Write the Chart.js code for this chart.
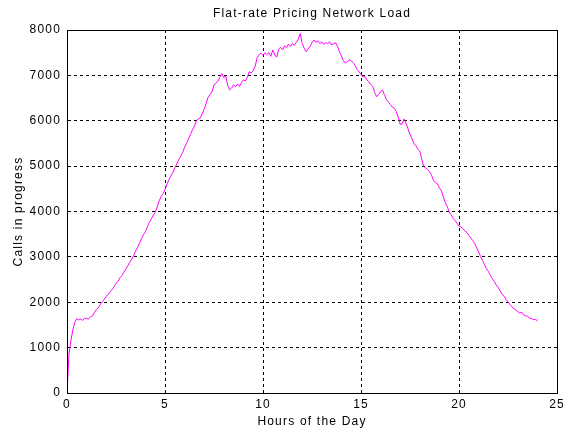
<!DOCTYPE html>
<html>
<head>
<meta charset="utf-8">
<title>Flat-rate Pricing Network Load</title>
<script src="https://cdn.jsdelivr.net/npm/chart.js@4/dist/chart.umd.min.js"></script>
<style>
  html, body { margin: 0; padding: 0; background: #ffffff; }
  #wrap { width: 563px; height: 432px; }
</style>
</head>
<body>
<div id="wrap"><canvas id="load" width="563" height="432"></canvas></div>
<script>
// Calls in progress, sampled every 0.1 h from 00:00 to 24:00
const sampleStepHours = 0.1;
const callsInProgress = [
  0, 850, 1150, 1400, 1560, 1640, 1610, 1630, 1600, 1640,
  1650, 1630, 1680, 1700, 1780, 1840, 1880, 1950, 2010, 2060,
  2130, 2170, 2230, 2280, 2340, 2420, 2460, 2540, 2590, 2660,
  2730, 2800, 2880, 2950, 3030, 3130, 3210, 3300, 3400, 3490,
  3560, 3660, 3760, 3830, 3920, 3980, 4100, 4230, 4330, 4390,
  4480, 4600, 4700, 4780, 4860, 4960, 5050, 5140, 5220, 5300,
  5420, 5500, 5600, 5700, 5800, 5880, 6000, 6040, 6060, 6150,
  6260, 6380, 6520, 6580, 6640, 6790, 6830, 6870, 6960, 7040,
  6950, 6990, 6780, 6680, 6720, 6790, 6750, 6810, 6760, 6840,
  6900, 6880, 6960, 7080, 7050, 7110, 7200, 7390, 7450, 7490,
  7440, 7500, 7460, 7500, 7420, 7560, 7450, 7400, 7580, 7620,
  7560, 7650, 7610, 7690, 7640, 7700, 7660, 7730, 7800, 7920,
  7700, 7600, 7520, 7580, 7640, 7720, 7780, 7730, 7760, 7700,
  7740, 7680, 7720, 7700, 7740, 7670, 7690, 7720, 7640, 7520,
  7430, 7330, 7270, 7300, 7340, 7320, 7280, 7220, 7130, 7080,
  7020, 6960, 6980, 6900, 6860, 6800, 6760, 6620, 6530, 6580,
  6640, 6680, 6560, 6470, 6410, 6360, 6300, 6280, 6200, 6080,
  5920, 5930, 6040, 5940, 5820, 5700, 5600, 5500, 5450, 5370,
  5330, 5150, 4990, 4960, 4920, 4880, 4800, 4680, 4640, 4610,
  4520, 4460, 4320, 4200, 4110, 3990, 3930, 3850, 3800, 3740,
  3680, 3660, 3620, 3570, 3540, 3470, 3420, 3360, 3300, 3200,
  3110, 3010, 2920, 2830, 2740, 2680, 2590, 2520, 2460, 2380,
  2330, 2250, 2180, 2130, 2060, 2010, 1950, 1900, 1860, 1830,
  1790, 1760, 1780, 1720, 1700, 1690, 1650, 1640, 1620, 1620,
  1590
];
const hourTicks = [0, 5, 10, 15, 20, 25];
const callTicks = [0, 1000, 2000, 3000, 4000, 5000, 6000, 7000, 8000];

const chartTitle = 'Flat-rate Pricing Network Load';
const xAxisTitle = 'Hours of the Day';
const yAxisTitle = 'Calls in progress';

const points = callsInProgress.map((v, i) => ({ x: +(i * sampleStepHours).toFixed(1), y: v }));

const baseFont = { family: 'Arial, "Liberation Sans", sans-serif', size: 12 };
const plainNumber = v => String(v);

// Letter spacing for all canvas text, plus the solid frame and the title above the axes
const framePlugin = {
  id: 'frame',
  beforeDraw(chart) {
    chart.ctx.letterSpacing = '1.2px';
  },
  afterDraw(chart) {
    const { ctx, chartArea: a } = chart;
    ctx.save();
    ctx.strokeStyle = '#000';
    ctx.lineWidth = 1;
    ctx.setLineDash([]);
    ctx.strokeRect(Math.round(a.left) + 0.5, Math.round(a.top) + 0.5,
                   Math.round(a.right - a.left), Math.round(a.bottom - a.top));
    ctx.fillStyle = '#000';
    ctx.font = '12px Arial, "Liberation Sans", sans-serif';
    ctx.letterSpacing = '1.2px';
    ctx.textAlign = 'center';
    ctx.textBaseline = 'middle';
    ctx.fillText(chartTitle, (a.left + a.right) / 2, 14);
    ctx.restore();
  }
};

new Chart(document.getElementById('load'), {
  type: 'line',
  data: {
    datasets: [{
      data: points,
      borderColor: '#ff00ff',
      borderWidth: 1,
      pointRadius: 0,
      tension: 0,
      fill: false
    }]
  },
  options: {
    responsive: false,
    animation: false,
    devicePixelRatio: 1,
    layout: { padding: { left: 0, right: 0, top: 30, bottom: 0 } },
    plugins: { legend: { display: false }, tooltip: { enabled: false }, title: { display: false } },
    scales: {
      x: {
        type: 'linear',
        min: hourTicks[0],
        max: hourTicks[hourTicks.length - 1],
        afterBuildTicks(scale) { scale.ticks = hourTicks.map(v => ({ value: v })); },
        afterFit(scale) { scale.height = 39; scale.paddingRight = 6; },
        ticks: { color: '#000', font: baseFont, padding: 4, maxRotation: 0, callback: plainNumber },
        grid: { color: '#000', lineWidth: 1, drawTicks: false },
        border: { display: true, color: '#000', dash: [3, 3] },
        title: { display: true, text: xAxisTitle, color: '#000', font: baseFont, padding: { top: 0, bottom: 3 } }
      },
      y: {
        type: 'linear',
        min: callTicks[0],
        max: callTicks[callTicks.length - 1],
        afterBuildTicks(scale) { scale.ticks = callTicks.map(v => ({ value: v })); },
        afterFit(scale) { scale.width = 67; scale.paddingTop = 0; scale.paddingBottom = 0; },
        ticks: { color: '#000', font: baseFont, padding: 6, callback: plainNumber },
        grid: { color: '#000', lineWidth: 1, drawTicks: false },
        border: { display: true, color: '#000', dash: [3, 3] },
        title: { display: true, text: yAxisTitle, color: '#000', font: baseFont, padding: { top: 11, bottom: 0 } }
      }
    }
  },
  plugins: [framePlugin]
});
</script>
</body>
</html>
